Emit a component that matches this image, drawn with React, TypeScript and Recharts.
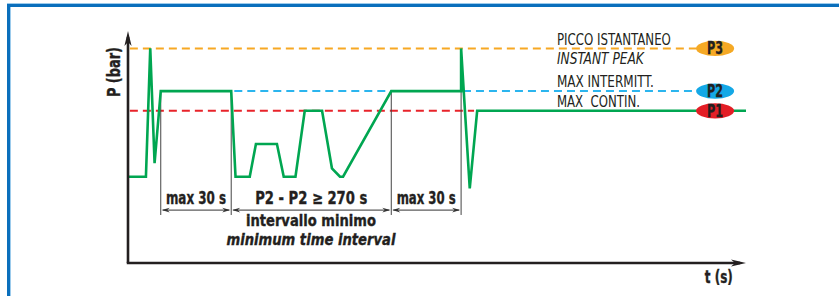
import React from 'react';
import { LineChart, Line, XAxis, YAxis, ReferenceLine, ReferenceDot } from 'recharts';

// ---- data (schematic units) ----
const timeS = [0, 2.9, 3.6, 4.3, 5.3, 16.7, 17.4, 19.7, 20.7, 24.1, 25.2, 27.1, 28.6, 31.4, 33.0, 34.3, 34.8, 42.6, 53.9, 53.9, 55.3, 56.5, 100];
const pressure = [37.2, 37.2, 92.5, 43.0, 74.1, 74.1, 37.2, 37.2, 51.3, 51.3, 37.2, 37.2, 65.6, 65.6, 40.8, 37.2, 37.2, 74.1, 74.1, 92.5, 32.2, 65.6, 65.6];

const levelNames = ['P1', 'P2', 'P3'];
const levelValues = [65.6, 74.1, 92.5];
const legendTitles = ['PICCO ISTANTANEO', 'INSTANT PEAK', 'MAX INTERMITT.', 'MAX  CONTIN.'];

const markerTimes = [5.3, 16.7, 42.6, 53.9];
const intervalLabels = ['max 30 s', 'P2 - P2 \u2265 270 s', 'max 30 s'];
const captionLines = ['intervallo minimo', 'minimum time interval'];
const axisTitles = ['P (bar)', 't (s)'];

const data = timeS.map((t, i) => ({ t, p: pressure[i] }));

const FONT = "'Liberation Sans Narrow', 'DejaVu Sans Condensed', 'Arial Narrow', sans-serif";
const GREEN = '#00A651';
const ORANGE = '#F7A823';
const BLUE = '#2BB5EE';
const RED = '#E8232A';
const AXIS = '#231F20';
const levelFill = ['#E31E26', '#14A8E6', '#F5A925'];

const intervalWidths = [60, 112, 59];
const legendWidths = [114, 87, 97, 83];

const P1 = levelValues[0];
const P2 = levelValues[1];
const P3 = levelValues[2];
const DIM_BOTTOM = 20.7;
const DIM_Y = 22.8;

const AxisArrow = (props: any) => {
  const { x1, y1, x2, y2 } = props;
  const len = 15, hw = 3.6, notch = 11;
  const ang = Math.atan2(y2 - y1, x2 - x1);
  const c = Math.cos(ang), s = Math.sin(ang);
  const bx = (d: number, w: number) => x2 - c * d - s * w;
  const by = (d: number, w: number) => y2 - s * d + c * w;
  return (
    <g>
      <line x1={x1} y1={y1} x2={x2 - c * 6} y2={y2 - s * 6} stroke={AXIS} strokeWidth={2.6} />
      <path d={`M${x2},${y2} L${bx(len, hw)},${by(len, hw)} L${bx(notch, 0)},${by(notch, 0)} L${bx(len, -hw)},${by(len, -hw)} Z`} fill={AXIS} />
    </g>
  );
};

const DimArrow = (props: any) => {
  const { x1, y1, x2, y2 } = props;
  const len = 8, hw = 2.4;
  return (
    <g>
      <line x1={x1 + 2} y1={y1} x2={x2 - 2} y2={y2} stroke="#333" strokeWidth={1} />
      <path d={`M${x1 + 1},${y1} L${x1 + 1 + len},${y1 - hw} L${x1 + 1 + len - 2.5},${y1} L${x1 + 1 + len},${y1 + hw} Z`} fill="#333" />
      <path d={`M${x2 - 1},${y2} L${x2 - 1 - len},${y2 - hw} L${x2 - 1 - len + 2.5},${y2} L${x2 - 1 - len},${y2 + hw} Z`} fill="#333" />
    </g>
  );
};

const textAt = (label: string, opts: any) => (p: any) => {
  const x = p.cx + (opts.dx || 0);
  const y = p.cy + (opts.dy || 0);
  const bold = opts.weight === 'bold';
  return (
    <text
      x={x}
      y={y}
      textAnchor={opts.anchor || 'middle'}
      fontFamily={FONT}
      fontSize={opts.size}
      fontWeight={opts.weight || 'normal'}
      fontStyle={opts.italic ? 'italic' : 'normal'}
      fill={opts.fill || '#231F20'}
      stroke={bold ? '#231F20' : undefined}
      strokeWidth={bold ? 0.35 : undefined}
      textLength={opts.width}
      lengthAdjust="spacingAndGlyphs"
      transform={opts.rotate ? `rotate(-90 ${x} ${y})` : undefined}
      style={{ whiteSpace: 'pre' }}
    >
      {label}
    </text>
  );
};

const badge = (name: string, fill: string) => (p: any) => (
  <g>
    <ellipse cx={p.cx} cy={p.cy} rx={19} ry={7.6} fill={fill} />
    <text
      x={p.cx}
      y={p.cy + 6}
      textAnchor="middle"
      fontFamily={FONT}
      fontSize={17}
      fontWeight="bold"
      fill="#231F20"
      stroke="#231F20"
      strokeWidth={0.3}
      textLength={16}
      lengthAdjust="spacingAndGlyphs"
    >
      {name}
    </text>
  </g>
);

export default function App() {
  const legendX = 69.4;
  const badgeX = 95.0;
  return (
    <div style={{ position: 'absolute', left: 0, top: 0, width: 839, height: 296, background: '#fff', overflow: 'hidden' }}>
      <div
        style={{
          position: 'absolute',
          left: 7,
          top: 3,
          width: 860,
          height: 320,
          borderTop: '1px solid #9CCBEC',
          boxSizing: 'border-box',
        }}
      >
        <div
          style={{
            position: 'absolute',
            left: 0,
            top: 0,
            width: 860,
            height: 320,
            borderTop: '3px solid #0A6FBC',
            borderLeft: '3px solid #0A6FBC',
            boxSizing: 'border-box',
          }}
        />
        <div style={{ position: 'absolute', left: 3, top: 3, width: 1, height: 320, background: '#9CCBEC' }} />
      </div>
      <div style={{ position: 'absolute', left: 0, top: 0 }}>
        <LineChart width={839} height={296} data={data} margin={{ top: 31, right: 93, bottom: 33, left: 128 }}>
          <XAxis dataKey="t" type="number" domain={[0, 100]} hide />
          <YAxis type="number" domain={[0, 100]} hide />

          <ReferenceLine segment={[{ x: 0.3, y: P3 }, { x: badgeX, y: P3 }]} stroke={ORANGE} strokeWidth={2} strokeDasharray="8 5" ifOverflow="visible" />
          <ReferenceLine segment={[{ x: 17.2, y: P2 }, { x: 42.6, y: P2 }]} stroke={BLUE} strokeWidth={2} strokeDasharray="8 5" ifOverflow="visible" />
          <ReferenceLine segment={[{ x: 54.2, y: P2 }, { x: badgeX, y: P2 }]} stroke={BLUE} strokeWidth={2} strokeDasharray="8 5" ifOverflow="visible" />
          <ReferenceLine segment={[{ x: 0.3, y: P1 }, { x: 56.0, y: P1 }]} stroke={RED} strokeWidth={2} strokeDasharray="8 5" ifOverflow="visible" />

          {markerTimes.map((m, i) => (
            <ReferenceLine key={'m' + i} segment={[{ x: m, y: P2 }, { x: m, y: DIM_BOTTOM }]} stroke="#444" strokeWidth={1} ifOverflow="visible" />
          ))}
          {intervalLabels.map((lab, i) => (
            <ReferenceLine
              key={'d' + i}
              segment={[{ x: markerTimes[i], y: DIM_Y }, { x: markerTimes[i + 1], y: DIM_Y }]}
              ifOverflow="visible"
              shape={DimArrow}
            />
          ))}

          <Line type="linear" dataKey="p" stroke={GREEN} strokeWidth={2.6} dot={false} isAnimationActive={false} />

          <ReferenceLine segment={[{ x: 0, y: 0 }, { x: 0, y: 100 }]} ifOverflow="visible" shape={AxisArrow} />
          <ReferenceLine segment={[{ x: -0.2, y: 0 }, { x: 100, y: 0 }]} ifOverflow="visible" shape={AxisArrow} />

          {intervalLabels.map((lab, i) => (
            <ReferenceDot
              key={'l' + i}
              x={(markerTimes[i] + markerTimes[i + 1]) / 2}
              y={DIM_Y}
              r={0}
              ifOverflow="visible"
              shape={textAt(lab, { size: 17.5, weight: 'bold', dy: -6, width: intervalWidths[i] })}
            />
          ))}
          <ReferenceDot x={29.6} y={DIM_Y} r={0} ifOverflow="visible" shape={textAt(captionLines[0], { size: 15.5, weight: 'bold', dy: 15.8, width: 130 })} />
          <ReferenceDot x={29.6} y={DIM_Y} r={0} ifOverflow="visible" shape={textAt(captionLines[1], { size: 15.5, weight: 'bold', italic: true, dy: 34.4, width: 169 })} />

          <ReferenceDot x={legendX} y={P3} r={0} ifOverflow="visible" shape={textAt(legendTitles[0], { size: 15, anchor: 'start', dy: -3.5, width: legendWidths[0] })} />
          <ReferenceDot x={legendX} y={P3} r={0} ifOverflow="visible" shape={textAt(legendTitles[1], { size: 15, anchor: 'start', italic: true, dy: 15.5, width: legendWidths[1] })} />
          <ReferenceDot x={legendX} y={P2} r={0} ifOverflow="visible" shape={textAt(legendTitles[2], { size: 15, anchor: 'start', dy: -4.5, width: legendWidths[2] })} />
          <ReferenceDot x={legendX} y={P1} r={0} ifOverflow="visible" shape={textAt(legendTitles[3], { size: 15, anchor: 'start', dy: -3.7, width: legendWidths[3] })} />

          {levelNames.map((n, i) => (
            <ReferenceDot key={n} x={badgeX} y={levelValues[i]} r={0} ifOverflow="visible" shape={badge(n, levelFill[i])} />
          ))}

          <ReferenceDot x={0} y={82.3} r={0} ifOverflow="visible" shape={textAt(axisTitles[0], { size: 17, weight: 'bold', dx: -8, rotate: true, width: 50 })} />
          <ReferenceDot x={95.6} y={0} r={0} ifOverflow="visible" shape={textAt(axisTitles[1], { size: 17, weight: 'bold', dy: 20, width: 28 })} />
        </LineChart>
      </div>
    </div>
  );
}
